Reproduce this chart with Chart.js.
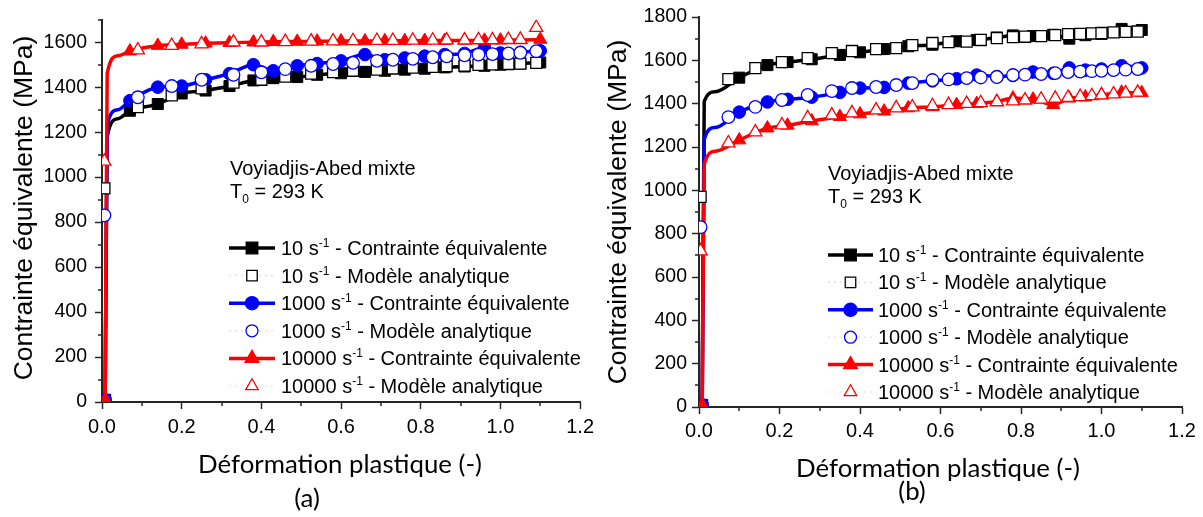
<!DOCTYPE html>
<html lang="fr">
<head>
<meta charset="utf-8">
<title>Contrainte équivalente - Voyiadjis-Abed mixte</title>
<script src="https://cdn.jsdelivr.net/npm/chart.js@4.4.1/dist/chart.umd.min.js"></script>
<style>
  html, body { margin: 0; padding: 0; background: #fff; }
  #wrap { position: relative; width: 1203px; height: 517px; overflow: hidden; }
  #chartA { position: absolute; left: 0; top: 0; }
  #chartB { position: absolute; left: 600px; top: 0; }
</style>
</head>
<body>
<div id="wrap">
  <canvas id="chartA" width="600" height="517"></canvas>
  <canvas id="chartB" width="603" height="517"></canvas>
</div>
<script>
const RATES = ["10", "1000", "10000"];
const KINDS = ["Contrainte équivalente", "Modèle analytique"];
const COLORS = ["#000000", "#0000ff", "#ff0000"];
const FAINT = ["rgba(0,0,0,0.12)", "rgba(0,0,255,0.12)", "rgba(255,0,0,0.12)"];
const STYLES = ["rect", "circle", "triangle"];

const Y_TITLE = "Contrainte équivalente (MPa)";
const X_TITLE = "Déformation plastique (-)";
const NOTE_LINE1 = "Voyiadjis-Abed mixte";
const NOTE_T = "T";
const NOTE_SUB = "0";
const NOTE_REST = " = 293 K";

const X_LABELS = [0.0, 0.2, 0.4, 0.6, 0.8, 1.0, 1.2];
const Y_LABELS_A = [0, 200, 400, 600, 800, 1000, 1200, 1400, 1600];
const Y_LABELS_B = [0, 200, 400, 600, 800, 1000, 1200, 1400, 1600, 1800];

// (a) experimental curves
const expStrainA = [0.008, 0.013, 0.04, 0.07, 0.14, 0.2, 0.26, 0.32, 0.38, 0.43, 0.49, 0.54, 0.6, 0.66, 0.71, 0.76, 0.81, 0.86, 0.91, 0.96, 1.0, 1.05, 1.1];
const exp10A = [10, 1180, 1260, 1295, 1325, 1372, 1385, 1405, 1430, 1440, 1445, 1455, 1462, 1468, 1473, 1478, 1482, 1488, 1492, 1495, 1500, 1505, 1510];
const exp1000A = [10, 1230, 1300, 1340, 1400, 1405, 1433, 1460, 1500, 1473, 1495, 1505, 1517, 1545, 1522, 1530, 1538, 1545, 1550, 1575, 1552, 1555, 1562];
const exp10000A = [10, 1460, 1540, 1560, 1585, 1590, 1595, 1598, 1600, 1602, 1603, 1604, 1605, 1605, 1606, 1606, 1607, 1607, 1608, 1608, 1609, 1610, 1612];

// (a) analytical model
const modelStrainA = [0.006, 0.09, 0.175, 0.25, 0.33, 0.4, 0.46, 0.525, 0.58, 0.63, 0.69, 0.73, 0.78, 0.83, 0.865, 0.91, 0.945, 0.98, 1.02, 1.05, 1.09];
const model10A = [950, 1311, 1364, 1395, 1420, 1433, 1447, 1460, 1467, 1473, 1478, 1483, 1487, 1490, 1493, 1496, 1499, 1501, 1503, 1505, 1508];
const model1000A = [830, 1355, 1405, 1433, 1455, 1466, 1480, 1495, 1503, 1508, 1517, 1522, 1526, 1533, 1537, 1542, 1545, 1547, 1550, 1553, 1560];
const model10000A = [1070, 1565, 1585, 1592, 1600, 1600, 1602, 1604, 1605, 1606, 1607, 1607, 1608, 1608, 1609, 1609, 1610, 1610, 1611, 1612, 1665];

// (b) experimental curves
const expStrainB = [0.008, 0.013, 0.04, 0.1, 0.17, 0.22, 0.28, 0.35, 0.4, 0.46, 0.52, 0.58, 0.64, 0.69, 0.74, 0.78, 0.83, 0.88, 0.92, 0.96, 1.0, 1.05, 1.1];
const exp10B = [10, 1410, 1455, 1520, 1578, 1592, 1605, 1625, 1637, 1652, 1665, 1672, 1688, 1694, 1705, 1715, 1712, 1718, 1700, 1716, 1722, 1745, 1740];
const exp1000B = [10, 1235, 1290, 1361, 1408, 1420, 1430, 1452, 1472, 1475, 1495, 1505, 1515, 1532, 1525, 1530, 1546, 1540, 1565, 1555, 1560, 1575, 1565];
const exp10000B = [10, 1120, 1180, 1232, 1287, 1300, 1320, 1340, 1352, 1365, 1380, 1385, 1395, 1400, 1410, 1425, 1420, 1395, 1425, 1430, 1440, 1452, 1450];

// (b) analytical model
const modelStrainB = [0.004, 0.073, 0.14, 0.206, 0.27, 0.33, 0.38, 0.44, 0.49, 0.53, 0.58, 0.62, 0.665, 0.7, 0.74, 0.78, 0.81, 0.85, 0.885, 0.917, 0.947, 0.976, 1.0, 1.03, 1.06, 1.09];
const model10B = [970, 1513, 1564, 1592, 1610, 1633, 1643, 1652, 1656, 1670, 1680, 1684, 1686, 1694, 1703, 1707, 1709, 1712, 1716, 1721, 1722, 1724, 1726, 1729, 1731, 1733];
const model1000B = [830, 1338, 1385, 1417, 1440, 1458, 1472, 1477, 1486, 1495, 1509, 1512, 1518, 1521, 1523, 1532, 1534, 1537, 1541, 1546, 1548, 1550, 1552, 1555, 1557, 1560];
const model10000B = [720, 1218, 1269, 1301, 1334, 1347, 1357, 1370, 1380, 1384, 1390, 1395, 1400, 1404, 1408, 1412, 1416, 1420, 1424, 1428, 1432, 1436, 1440, 1444, 1448, 1452];

const AXIS_COLOR = "#262626";
const TEXT_FONT = "'Liberation Sans', Arial, sans-serif";
const TITLE_FONT = "Lato, 'Open Sans', sans-serif";
const MARKER_R = { rect: 7.8, circle: 6.3, triangle: 7.6 };

function toPoints(xs, ys) {
  return xs.map((x, i) => ({ x, y: ys[i] }));
}

function expDataset(i, xs, ys) {
  const r = MARKER_R[STYLES[i]];
  return {
    label: RATES[i] + " s-1 - " + KINDS[0],
    data: toPoints(xs, ys),
    showLine: true,
    borderColor: COLORS[i],
    backgroundColor: COLORS[i],
    borderWidth: 3.5,
    cubicInterpolationMode: "monotone",
    pointStyle: STYLES[i],
    // no marker on the knee of the curve
    pointRadius: xs.map((x, k) => (k === 1 || k === 2 ? 0 : r)),
    pointBorderWidth: 1,
    order: 6 - i,
  };
}

function modelDataset(i, xs, ys) {
  return {
    label: RATES[i] + " s-1 - " + KINDS[1],
    data: toPoints(xs, ys),
    showLine: false,
    borderColor: COLORS[i],
    pointBackgroundColor: "#ffffff",
    pointBorderColor: COLORS[i],
    pointBorderWidth: 1.3,
    pointStyle: STYLES[i],
    pointRadius: MARKER_R[STYLES[i]],
    order: 3 - i,
  };
}

function drawMarker(ctx, style, x, y, r, filled, color) {
  ctx.beginPath();
  if (style === "rect") {
    const s = r * Math.SQRT1_2;
    ctx.rect(x - s, y - s, 2 * s, 2 * s);
  } else if (style === "circle") {
    ctx.arc(x, y, r, 0, Math.PI * 2);
  } else {
    ctx.moveTo(x, y - r);
    ctx.lineTo(x + r * 0.866, y + r / 2);
    ctx.lineTo(x - r * 0.866, y + r / 2);
    ctx.closePath();
  }
  ctx.fillStyle = filled ? color : "#ffffff";
  ctx.fill();
  ctx.lineWidth = 1.3;
  ctx.strokeStyle = color;
  ctx.stroke();
}

// text with a raised or lowered small part: main, small, rest
function drawScriptText(ctx, x, y, main, small, rest, size, shift) {
  ctx.textAlign = "left";
  ctx.textBaseline = "alphabetic";
  ctx.font = size + "px " + TEXT_FONT;
  ctx.fillText(main, x, y);
  let cx = x + ctx.measureText(main).width;
  ctx.font = Math.round(size * 0.62) + "px " + TEXT_FONT;
  ctx.fillText(small, cx, y + shift);
  cx += ctx.measureText(small).width;
  ctx.font = size + "px " + TEXT_FONT;
  ctx.fillText(rest, cx, y);
}

const decorPlugin = {
  id: "decor",
  afterDraw(chart, args, o) {
    const ctx = chart.ctx;
    const area = chart.chartArea;
    const xs = chart.scales.x;
    const ys = chart.scales.y;
    ctx.save();

    // minor ticks
    ctx.strokeStyle = AXIS_COLOR;
    ctx.lineWidth = 1.5;
    ctx.beginPath();
    for (let v = 100; v <= ys.max; v += 200) {
      const py = Math.round(ys.getPixelForValue(v));
      ctx.moveTo(area.left - 4, py);
      ctx.lineTo(area.left, py);
    }
    for (let v = 0.1; v < xs.max; v += 0.2) {
      const px = Math.round(xs.getPixelForValue(v));
      ctx.moveTo(px, area.bottom);
      ctx.lineTo(px, area.bottom + 4);
    }
    ctx.stroke();

    ctx.fillStyle = "#000";

    // axis titles
    ctx.save();
    ctx.translate(o.yTitleX, o.yTitleY);
    ctx.rotate(-Math.PI / 2);
    ctx.textAlign = "center";
    ctx.textBaseline = "middle";
    ctx.font = o.yTitleSize + "px " + TEXT_FONT;
    ctx.fillText(Y_TITLE, 0, 0);
    ctx.restore();

    ctx.textAlign = "center";
    ctx.textBaseline = "alphabetic";
    ctx.font = o.xTitleSize + "px " + TITLE_FONT;
    ctx.fillText(X_TITLE, o.xTitleX, o.xTitleY);
    ctx.fillText(o.panel, o.panelX, o.panelY);

    // annotation
    ctx.textAlign = "left";
    ctx.font = "20px " + TEXT_FONT;
    ctx.fillText(NOTE_LINE1, o.noteX, o.noteY);
    drawScriptText(ctx, o.noteX, o.noteY + 23, NOTE_T, NOTE_SUB, NOTE_REST, 20, 5);

    // legend
    let row = 0;
    RATES.forEach((rate, i) => {
      KINDS.forEach((kind, k) => {
        const y = o.legendY + row * o.legendStep;
        const mx = (o.legendX0 + o.legendX1) / 2;
        ctx.save();
        if (k === 0) {
          ctx.strokeStyle = COLORS[i];
          ctx.lineWidth = 3.5;
        } else {
          ctx.strokeStyle = FAINT[i];
          ctx.lineWidth = 1.5;
          ctx.setLineDash([2, 4]);
        }
        ctx.beginPath();
        ctx.moveTo(o.legendX0, y);
        ctx.lineTo(o.legendX1, y);
        ctx.stroke();
        ctx.restore();
        const st = STYLES[i];
        const r = k === 0 ? MARKER_R[st] * 1.05 : MARKER_R[st] * 0.95;
        drawMarker(ctx, st, mx, y, r, k === 0, COLORS[i]);
        ctx.fillStyle = "#000";
        drawScriptText(ctx, o.legendTextX, y + 7, rate + " s", "-1", " - " + kind, 20, -8);
        row++;
      });
    });

    ctx.restore();
  },
};

function makeChart(canvasId, datasets, geo) {
  const canvas = document.getElementById(canvasId);
  const H = canvas.height;
  return new Chart(canvas.getContext("2d"), {
    type: "scatter",
    data: { datasets },
    options: {
      responsive: false,
      animation: false,
      layout: {
        padding: { left: 0, top: geo.top, right: canvas.width - geo.right, bottom: 0 },
      },
      scales: {
        x: {
          type: "linear",
          min: 0,
          max: 1.2,
          border: { display: true, color: AXIS_COLOR, width: 2 },
          grid: {
            drawOnChartArea: false,
            drawTicks: true,
            tickLength: 7,
            tickWidth: 1.5,
            tickColor: (c) => (c.tick && X_LABELS.some((v) => Math.abs(v - c.tick.value) < 1e-6) ? AXIS_COLOR : "rgba(0,0,0,0)"),
          },
          ticks: {
            stepSize: 0.1,
            autoSkip: false,
            maxRotation: 0,
            padding: geo.xPad,
            color: "#000",
            font: { family: TEXT_FONT, size: 20 },
            callback: (v) => (X_LABELS.some((t) => Math.abs(t - v) < 1e-6) ? Number(v).toFixed(1) : ""),
          },
          afterFit: (s) => { s.height = H - geo.bottom; },
        },
        y: {
          type: "linear",
          min: 0,
          max: geo.yMax,
          border: { display: true, color: AXIS_COLOR, width: 2 },
          grid: {
            drawOnChartArea: false,
            drawTicks: true,
            tickLength: 7,
            tickWidth: 1.5,
            tickColor: (c) => (c.tick && geo.yLabels.includes(c.tick.value) ? AXIS_COLOR : "rgba(0,0,0,0)"),
          },
          ticks: {
            stepSize: 100,
            autoSkip: false,
            padding: geo.yPad,
            color: "#000",
            font: { family: TEXT_FONT, size: 19.5 },
            callback: (v) => (geo.yLabels.includes(v) ? String(v) : ""),
          },
          afterFit: (s) => { s.width = geo.left; },
        },
      },
      plugins: {
        legend: { display: false },
        tooltip: { enabled: false },
        decor: geo.decor,
      },
    },
    plugins: [decorPlugin],
  });
}

function main() {
  const datasetsA = [
    modelDataset(2, modelStrainA, model10000A),
    modelDataset(1, modelStrainA, model1000A),
    modelDataset(0, modelStrainA, model10A),
    expDataset(2, expStrainA, exp10000A),
    expDataset(1, expStrainA, exp1000A),
    expDataset(0, expStrainA, exp10A),
  ];
  const datasetsB = [
    modelDataset(2, modelStrainB, model10000B),
    modelDataset(1, modelStrainB, model1000B),
    modelDataset(0, modelStrainB, model10B),
    expDataset(2, expStrainB, exp10000B),
    expDataset(1, expStrainB, exp1000B),
    expDataset(0, expStrainB, exp10B),
  ];

  makeChart("chartA", datasetsA, {
    left: 102, right: 582, top: 13, bottom: 402, yMax: 1700, yLabels: Y_LABELS_A, xPad: 6, yPad: 8,
    decor: {
      yTitleX: 25, yTitleY: 208, yTitleSize: 26.5,
      xTitleX: 340, xTitleY: 473, xTitleSize: 25.8,
      panel: "(a)", panelX: 307, panelY: 507,
      noteX: 230, noteY: 175,
      legendY: 248, legendStep: 27.6, legendX0: 229, legendX1: 275, legendTextX: 281,
    },
  });

  makeChart("chartB", datasetsB, {
    left: 99, right: 582, top: 17, bottom: 407, yMax: 1800, yLabels: Y_LABELS_B, xPad: 5, yPad: 5,
    decor: {
      yTitleX: 19, yTitleY: 212, yTitleSize: 26.5,
      xTitleX: 338, xTitleY: 477, xTitleSize: 25.8,
      panel: "(b)", panelX: 312, panelY: 500,
      noteX: 228, noteY: 180,
      legendY: 255, legendStep: 27.4, legendX0: 228, legendX1: 273, legendTextX: 278,
    },
  });
}

document.addEventListener("DOMContentLoaded", main);
</script>
</body>
</html>
